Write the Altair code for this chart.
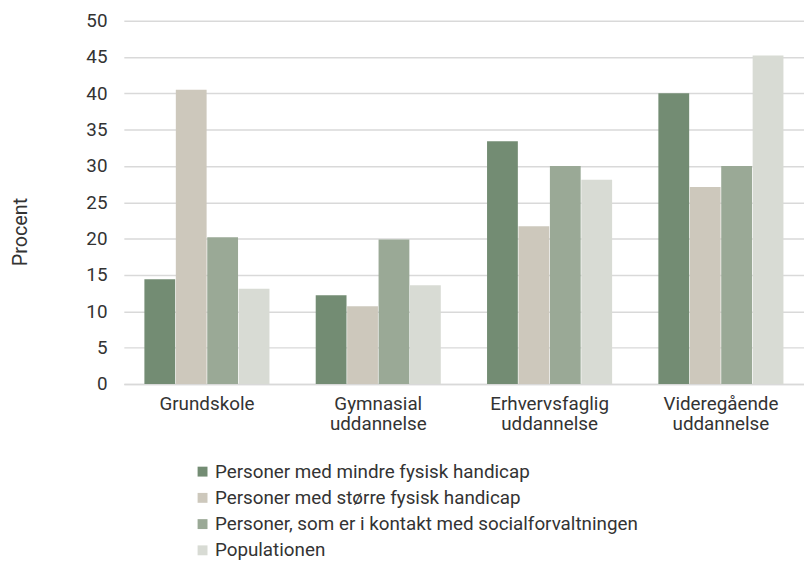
import altair as alt
import pandas as pd

categories = ["Grundskole", "Gymnasial uddannelse", "Erhvervsfaglig uddannelse", "Videregående uddannelse"]
series = [
    "Personer med mindre fysisk handicap",
    "Personer med større fysisk handicap",
    "Personer, som er i kontakt med socialforvaltningen",
    "Populationen",
]
values = {
    series[0]: [14.4, 12.2, 33.4, 40.0],
    series[1]: [40.5, 10.7, 21.7, 27.1],
    series[2]: [20.2, 19.9, 30.0, 30.0],
    series[3]: [13.1, 13.6, 28.1, 45.2],
}
colors = ["#738c73", "#cdc8bc", "#9aa996", "#d8dbd4"]
y_ticks = list(range(0, 51, 5))

rows = []
for s in series:
    for c, v in zip(categories, values[s]):
        rows.append({"Kategori": c, "Serie": s, "Procent": v})
df = pd.DataFrame(rows)

FONT = "Roboto"
FS = 19

chart = alt.Chart(df).mark_bar().encode(
    x=alt.X("Kategori:N", sort=categories,
            scale=alt.Scale(paddingInner=0.27, paddingOuter=0.12),
            axis=alt.Axis(title=None, labelAngle=0, labelFontSize=FS, labelColor="#333333",
                          labelFont=FONT, labelExpr="split(datum.label, ' ')",
                          ticks=False, domain=True, domainColor="#d9d9d9", domainWidth=1.5,
                          labelPadding=11, labelLineHeight=20)),
    xOffset=alt.XOffset("Serie:N", sort=series, scale=alt.Scale(paddingInner=0.02)),
    y=alt.Y("Procent:Q", scale=alt.Scale(domain=[0, 50], nice=False),
            axis=alt.Axis(values=y_ticks, title="Procent", titleFontSize=20, titleFont=FONT,
                          titleFontWeight="normal", titleColor="#333333",
                          titleX=-94, titleY=213,
                          labelFontSize=FS, labelColor="#333333", labelFont=FONT,
                          ticks=False, domain=False, labelPadding=17,
                          gridColor="#d9d9d9", gridWidth=1.5)),
    color=alt.Color("Serie:N", sort=series,
                    scale=alt.Scale(domain=series, range=colors),
                    legend=alt.Legend(title=None, orient="none", legendX=70, legendY=446,
                                      direction="vertical", symbolType="square", symbolSize=100,
                                      symbolStrokeWidth=0, labelFontSize=FS, labelFont=FONT,
                                      labelColor="#333333", rowPadding=6.5, labelLimit=600,
                                      labelOffset=3)),
).properties(
    width=687, height=367,
    autosize=alt.AutoSizeParams(type="none"),
    padding={"left": 117, "top": 10, "right": 0, "bottom": 177},
).configure_view(stroke=None)

chart.save("out.html", embed_options={"renderer": "svg", "actions": False})
